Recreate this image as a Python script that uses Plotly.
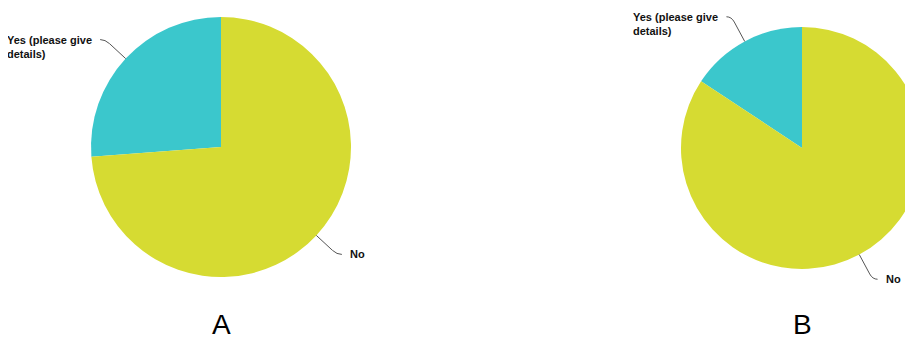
import math
import plotly.graph_objects as go

# ---- data ----
categories = ["Yes (please give details)", "No"]
label_lines = [["Yes (please give", "details)"], ["No"]]
values_a = [26.2, 73.8]
values_b = [15.7, 84.3]
panel_titles = ["A", "B"]

colors = ["#3BC7CC", "#D6DB32"]

# page offset (body margin) and figure size
OFF = 8
FW, FH = 920, 329

# pie geometry in window pixels: (left, top, right, bottom) of domain
geoms = [
    (91, 17, 351, 277),
    (681, 27, 923, 269),
]


def px_to_paper(x, y):
    return (x - OFF) / FW, 1 - (y - OFF) / FH


fig = go.Figure()
annotations = []
shapes = []

for vals, geom, title in zip([values_a, values_b], geoms, panel_titles):
    l, t, r, b = geom
    x0, y1 = px_to_paper(l, t)
    x1, y0 = px_to_paper(r, b)
    total = sum(vals)
    # first slice ends at 12 o'clock (it lies to the left of 12)
    rot = -360.0 * vals[0] / total
    fig.add_trace(go.Pie(
        labels=categories,
        values=vals,
        sort=False,
        direction="clockwise",
        rotation=rot,
        textinfo="none",
        hoverinfo="label+percent",
        marker=dict(colors=colors, line=dict(width=0)),
        domain=dict(x=[x0, x1], y=[y0, y1]),
        showlegend=False,
    ))
    cx, cy = (l + r) / 2, (t + b) / 2
    rad = min(r - l, b - t) / 2
    cum = 0.0
    for v, lines in zip(vals, label_lines):
        mid = (cum + v / 2) / total * 2 * math.pi
        cum += v
        ux, uy = -math.sin(mid), -math.cos(mid)
        p0 = (cx + rad * ux, cy + rad * uy)
        pa = (p0[0] + 22 * ux, p0[1] + 22 * uy)
        pc = (p0[0] + 28 * ux, p0[1] + 28 * uy)
        side = 1 if ux > 0 else -1
        pe = (pc[0] + side * 5, pc[1])
        pts = [px_to_paper(*p) for p in (p0, pa, pc, pe)]
        path = "M {0},{1} L {2},{3} Q {4},{5} {6},{7}".format(
            pts[0][0], pts[0][1], pts[1][0], pts[1][1],
            pts[2][0], pts[2][1], pts[3][0], pts[3][1])
        shapes.append(dict(type="path", xref="paper", yref="paper", path=path,
                           line=dict(color="#555555", width=1)))
        tx = pe[0] + side * 6
        xx, yy = px_to_paper(tx, pe[1] - 8)
        annotations.append(dict(
            x=xx, y=yy, xref="paper", yref="paper",
            text="<br>".join("<b>" + s + "</b>" for s in lines),
            showarrow=False,
            xanchor="left" if side > 0 else "right",
            yanchor="top",
            align="left",
            font=dict(family="Liberation Sans, Arial", size=11, color="#111111"),
        ))
    # panel letter under the pie
    xx, yy = px_to_paper(min(cx, 802), 324)
    annotations.append(dict(
        x=xx, y=yy, xref="paper", yref="paper", text=title, showarrow=False,
        xanchor="center", yanchor="middle",
        font=dict(family="Liberation Sans, Arial", size=28, color="#000000"),
    ))

fig.update_layout(
    width=FW, height=FH,
    margin=dict(l=0, r=0, t=0, b=0),
    paper_bgcolor="white",
    plot_bgcolor="white",
    annotations=annotations,
    shapes=shapes,
)

fig.write_html("out.html")
